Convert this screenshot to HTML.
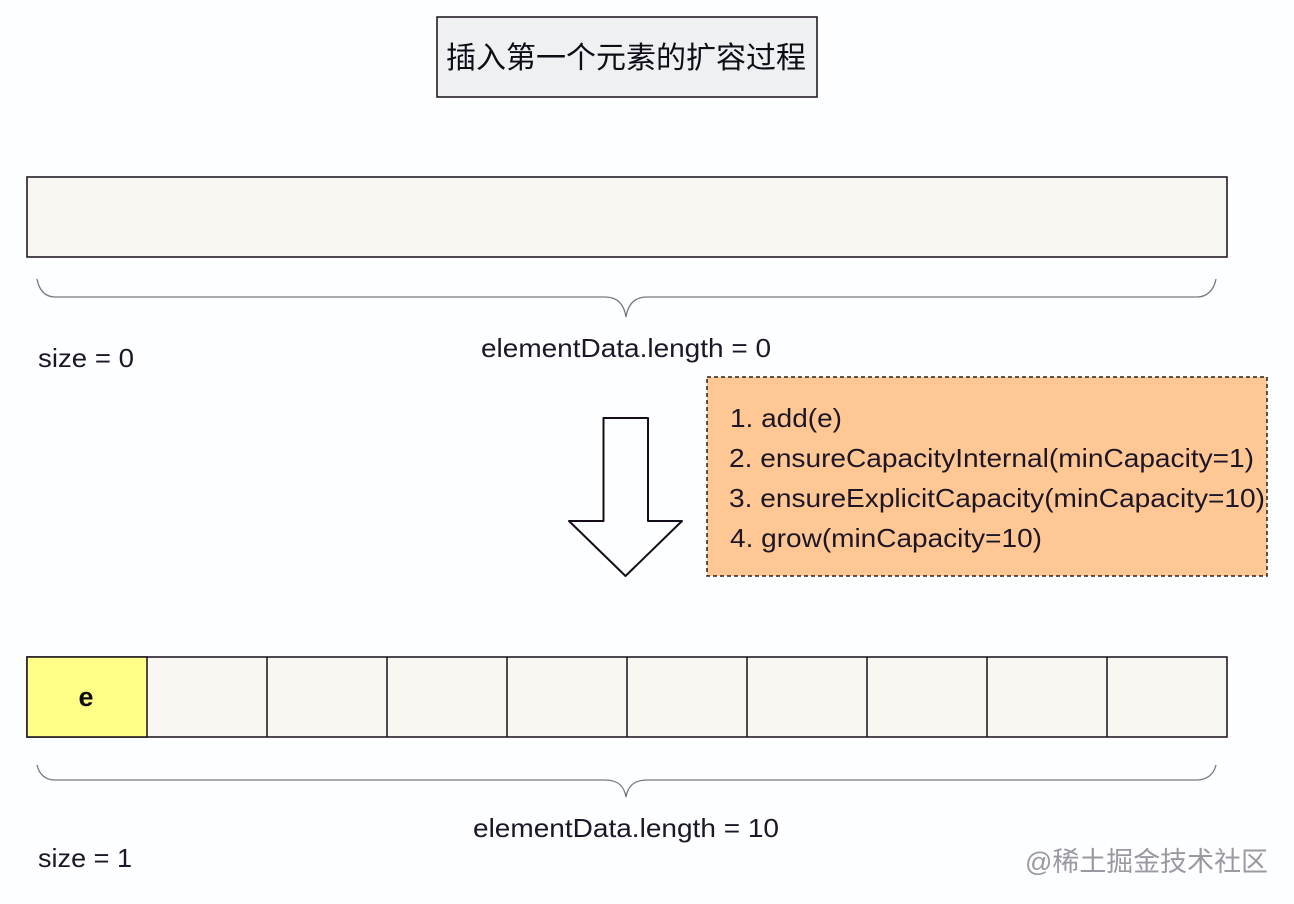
<!DOCTYPE html>
<html><head><meta charset="utf-8"><style>
html,body{margin:0;padding:0;background:#fdfeff;width:1294px;height:904px;overflow:hidden}
svg{display:block}
text{font-family:"Liberation Sans","Noto Sans CJK SC",sans-serif;fill:#1c1728}
</style></head><body>
<svg width="1294" height="904" viewBox="0 0 1294 904" xmlns="http://www.w3.org/2000/svg">
<defs><filter id="soft" filterUnits="userSpaceOnUse" x="0" y="0" width="1294" height="904"><feGaussianBlur stdDeviation="0.35"/></filter></defs>
<rect x="0" y="0" width="1294" height="904" fill="#fdfeff"/>
<g filter="url(#soft)">
<rect x="437" y="17" width="380" height="80" fill="#eff0f2" stroke="#14111c" stroke-width="1.5"/>
<text x="446" y="68" font-size="30" textLength="360" lengthAdjust="spacingAndGlyphs" style="font-family:'Noto Sans CJK SC',sans-serif;font-weight:400;fill:#0f0c18">插入第一个元素的扩容过程</text>
<rect x="27" y="177" width="1200" height="80" fill="#f9f7f1" stroke="#14111c" stroke-width="1.5"/>
<path d="M37 279C39 290 45 297 55 297H605C617 297 624 304 626 317C628 304 635 297 647 297H1197C1207 297 1214 290 1216 279" fill="none" stroke="#77777f" stroke-width="1.3"/>
<text x="481" y="357" font-size="26" textLength="290" lengthAdjust="spacingAndGlyphs">elementData.length = 0</text>
<text x="38" y="367" font-size="26" textLength="96" lengthAdjust="spacingAndGlyphs">size = 0</text>
<path d="M603.500 418H648V521H682L625.500 576L569 521H603.500Z" fill="#fdfeff" stroke="#14111c" stroke-width="2" stroke-linejoin="round"/>
<rect x="707" y="377" width="560" height="199" fill="#fec794" stroke="#2a211c" stroke-width="1.500" stroke-dasharray="4 3"/>
<g font-size="26">
<text x="730" y="427" textLength="112" lengthAdjust="spacingAndGlyphs">1. add(e)</text>
<text x="729" y="467" textLength="525" lengthAdjust="spacingAndGlyphs">2. ensureCapacityInternal(minCapacity=1)</text>
<text x="729" y="507" textLength="536" lengthAdjust="spacingAndGlyphs">3. ensureExplicitCapacity(minCapacity=10)</text>
<text x="730" y="547" textLength="312" lengthAdjust="spacingAndGlyphs">4. grow(minCapacity=10)</text>
</g>
<rect x="27" y="657" width="1200" height="80" fill="#f9f7f1" stroke="#14111c" stroke-width="1.5"/>
<rect x="27" y="657" width="120" height="80" fill="#ffff88" stroke="#14111c" stroke-width="1.5"/>
<path d="M267 657V737M387 657V737M507 657V737M627 657V737M747 657V737M867 657V737M987 657V737M1107 657V737" fill="none" stroke="#14111c" stroke-width="1.5"/>
<text x="86" y="706" font-size="27" font-weight="700" text-anchor="middle" style="fill:#0a0a0a">e</text>
<path d="M37 765C39 774 45 780 55 780H605C617 780 624 785 626 797C628 785 635 780 647 780H1197C1207 780 1214 774 1216 765" fill="none" stroke="#77777f" stroke-width="1.3"/>
<text x="473" y="837" font-size="26" textLength="306" lengthAdjust="spacingAndGlyphs">elementData.length = 10</text>
<text x="38" y="867" font-size="26" textLength="94" lengthAdjust="spacingAndGlyphs">size = 1</text>
<text x="1025" y="871" font-size="27" textLength="243" lengthAdjust="spacingAndGlyphs" style="fill:#8a8692;font-family:'Liberation Sans','WenQuanYi Zen Hei',sans-serif;font-weight:300;opacity:.85">@稀土掘金技术社区</text>
</g>
</svg>
</body></html>
